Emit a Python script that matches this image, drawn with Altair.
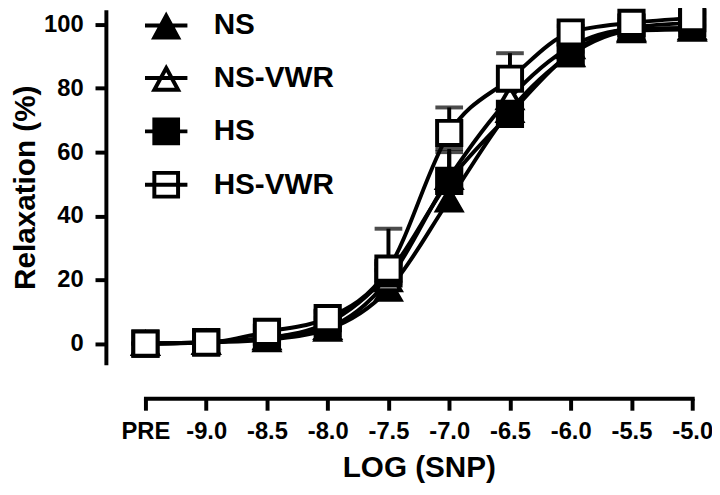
import altair as alt
import pandas as pd

# ---- data ----
log_snp = [-9.5, -9.0, -8.5, -8.0, -7.5, -7.0, -6.5, -6.0, -5.5, -5.0]  # -9.5 == "PRE"
series_names = ["NS", "NS-VWR", "HS", "HS-VWR"]
series_shapes = ["triangle-up", "triangle-up", "square", "square"]
series_fills = ["black", "white", "black", "white"]

ns_mean = [0.0, 0.3, 1.2, 4.5, 17.0, 45.0, 73.0, 90.5, 98.0, 98.5]
ns_err = [0.0, 0.3, 0.8, 1.0, 2.0, 3.0, 2.0, 1.0, 1.0, 1.0]

nsvwr_mean = [0.0, 0.4, 1.8, 5.0, 20.0, 52.0, 77.0, 93.0, 98.5, 99.0]
nsvwr_err = [0.0, 0.3, 0.8, 1.0, 3.0, 9.0, 4.0, 2.0, 1.0, 1.0]

hs_mean = [0.0, 0.5, 1.8, 6.5, 22.0, 51.0, 72.0, 91.0, 99.0, 100.5]
hs_err = [0.0, 0.3, 0.8, 1.5, 3.0, 9.0, 8.0, 2.0, 1.0, 1.0]

hsvwr_mean = [0.0, 0.3, 3.7, 8.0, 23.5, 66.0, 83.0, 97.5, 100.5, 102.0]
hsvwr_err = [0.0, 0.3, 1.0, 2.0, 12.5, 8.0, 8.0, 2.0, 1.0, 1.5]

y_ticks = [0, 20, 40, 60, 80, 100]

means = [ns_mean, nsvwr_mean, hs_mean, hsvwr_mean]
errs = [ns_err, nsvwr_err, hs_err, hsvwr_err]

rows = []
for name, m, e in zip(series_names, means, errs):
    for x, v, s in zip(log_snp, m, e):
        rows.append({"x": x, "y": v, "upper": v + s, "series": name})
df = pd.DataFrame(rows)

FONT = "Liberation Sans"

xs = alt.Scale(domain=[-9.5, -5.0], nice=False, zero=False)
ys = alt.Scale(domain=[-6, 104], nice=False, zero=False)

x_axis = alt.Axis(
    values=log_snp,
    labelExpr="datum.value < -9.4 ? 'PRE' : '-' + format(abs(datum.value), '.1f')",
    title="LOG (SNP)",
    offset=36,
    tickSize=12,
    labelPadding=10,
    titlePadding=9,
    labelFlush=False,
    labelOverlap=False,
    labelBound=False,
    grid=False,
)
y_axis = alt.Axis(
    values=y_ticks,
    title="Relaxation (%)",
    offset=40,
    tickSize=11,
    labelPadding=12,
    titlePadding=3,
    grid=False,
)

base = alt.Chart(df)

err_rule = base.mark_rule(color="black", strokeWidth=4).encode(
    x=alt.X("x:Q", scale=xs, axis=x_axis),
    y=alt.Y("y:Q", scale=ys, axis=y_axis),
    y2="upper:Q",
    detail="series:N",
)
err_cap = base.mark_tick(color="black", orient="horizontal", size=28, thickness=4).encode(
    x=alt.X("x:Q", scale=xs), y=alt.Y("upper:Q", scale=ys), detail="series:N"
)

lines = base.mark_line(color="black", strokeWidth=4, interpolate="monotone").encode(
    x=alt.X("x:Q", scale=xs), y=alt.Y("y:Q", scale=ys), detail="series:N"
)

point_layers = []
for name, shp, fil in zip(series_names, series_shapes, series_fills):
    point_layers.append(
        base.transform_filter(alt.datum.series == name)
        .mark_point(shape=shp, filled=True, fill=fil, stroke="black", strokeWidth=4, size=600, opacity=1)
        .encode(x=alt.X("x:Q", scale=xs), y=alt.Y("y:Q", scale=ys))
    )

# legend symbols: marker with a line through it (custom symbol paths, unit = 15 px)
tri_path = "M-1.43,0H1.43M0,-0.67L0.8,0.8L-0.8,0.8Z"
sq_path = "M-1.43,0H1.43M-0.8,-0.8H0.8V0.8H-0.8Z"
leg = alt.Legend(title=None)

legend_layer = base.transform_filter("false").mark_point(
    filled=False, strokeWidth=4, size=900, opacity=1
).encode(
    x=alt.X("x:Q", scale=xs),
    y=alt.Y("y:Q", scale=ys),
    shape=alt.Shape(
        "series:N",
        scale=alt.Scale(domain=series_names, range=[tri_path, tri_path, sq_path, sq_path]),
        legend=leg,
    ),
    fill=alt.Fill(
        "series:N",
        scale=alt.Scale(domain=series_names, range=series_fills),
        legend=leg,
    ),
    stroke=alt.Stroke(
        "series:N",
        scale=alt.Scale(domain=series_names, range=["black", "black", "black", "black"]),
        legend=leg,
    ),
)

chart = (
    alt.layer(err_rule, err_cap, lines, *point_layers, legend_layer)
    .properties(
        width=553,
        height=355,
        autosize=alt.AutoSizeParams(type="none"),
        padding={"left": 139, "top": 1, "right": 20, "bottom": 131},
    )
    .configure_view(stroke=None)
    .configure_axis(
        domainColor="black",
        domainWidth=4,
        domainCap="square",
        tickColor="black",
        tickWidth=4,
        labelFont=FONT,
        labelFontSize=24,
        labelFontWeight="bold",
        labelColor="black",
        titleFont=FONT,
        titleFontSize=30,
        titleFontWeight="bold",
        titleColor="black",
    )
    .configure_legend(
        orient="none",
        legendX=4,
        legendY=-3,
        padding=0,
        rowPadding=14,
        labelOffset=31,
        labelFont=FONT,
        labelFontSize=30,
        labelFontWeight="bold",
        labelColor="black",
        labelLimit=400,
        symbolSize=900,
        symbolStrokeWidth=4,
        symbolStrokeColor="black",
    )
)

chart.save("out.html", embed_options={"renderer": "svg", "actions": False})
